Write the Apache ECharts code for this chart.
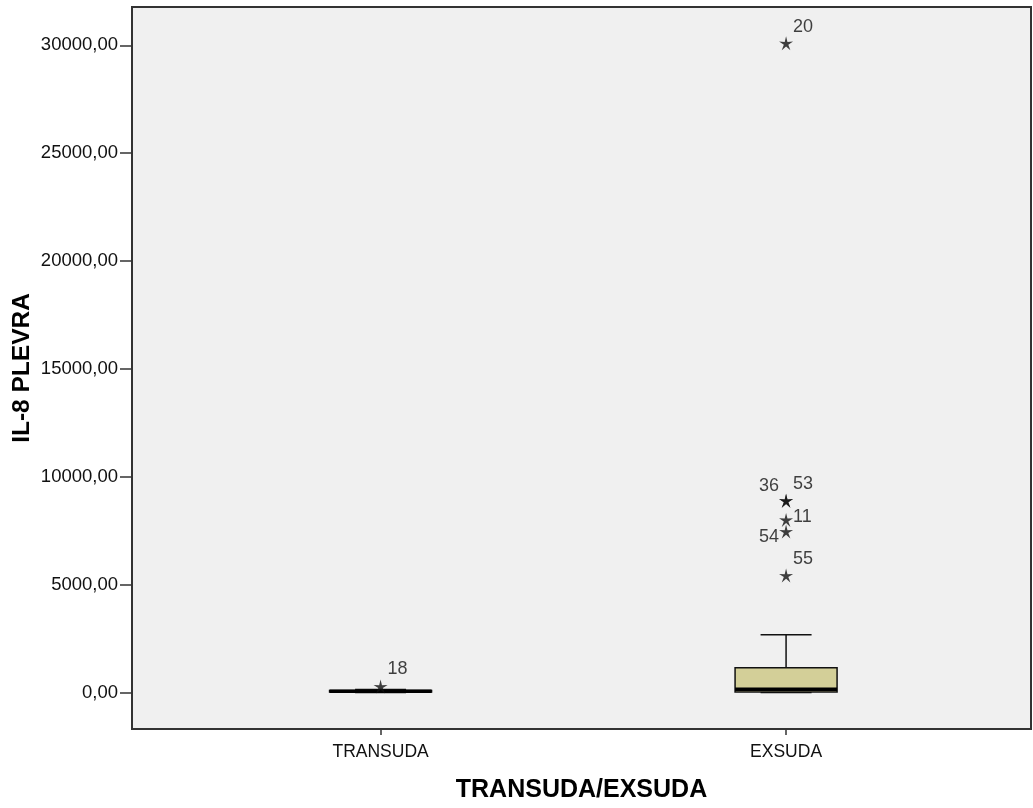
<!DOCTYPE html>
<html><head><meta charset="utf-8">
<script src="https://cdn.jsdelivr.net/npm/echarts@6/dist/echarts.min.js"></script>
<style>html,body{margin:0;padding:0;background:#fff}#c{width:1033px;height:808px}</style>
</head><body><div id="c"></div>
<script>
// ---- data ----
const categories = ['TRANSUDA', 'EXSUDA'];
// box statistics per category: [min, Q1, median, Q3, max]
const transudaBox = [0, 15, 50, 90, 140];
const exsudaBox = [0, 20, 150, 1150, 2670];
// extreme values (stars): category index, value, case id
const outlierCategory = [0, 1, 1, 1, 1, 1, 1];
const outlierValues = [270, 30100, 8890, 8890, 8000, 7460, 5420];
const outlierIds = ['18', '20', '36', '53', '11', '54', '55'];
const yTicks = [0, 5000, 10000, 15000, 20000, 25000, 30000];

// ---- styling helpers ----
const FONT = "'Liberation Sans', Arial, sans-serif";
const labelPlace = { '18': ['right', -18], '20': ['right', -16], '36': ['left', -15], '53': ['right', -17],
                     '11': ['right', -3], '54': ['left', 6], '55': ['right', -17] };
function starPath() {
  let d = '';
  for (let i = 0; i < 10; i++) {
    const r = i % 2 === 0 ? 50 : 16;
    const a = -Math.PI / 2 + i * Math.PI / 5;
    d += (i === 0 ? 'M' : 'L') + (50 + r * Math.cos(a)).toFixed(2) + ',' + (50 + r * Math.sin(a)).toFixed(2);
  }
  return 'path://' + d + 'Z';
}
const boxData = [[0].concat(transudaBox), [1].concat(exsudaBox)];
const starData = outlierValues.map((v, i) => {
  const pl = labelPlace[outlierIds[i]];
  return { value: [outlierCategory[i], v], name: outlierIds[i],
    label: { position: pl[0], offset: [0, pl[1]] } };
});

const chart = echarts.init(document.getElementById('c'), null, { renderer: 'canvas' });
chart.setOption({
  animation: false,
  backgroundColor: '#ffffff',
  textStyle: { fontFamily: FONT },
  grid: { left: 132, right: 2, top: 7, bottom: 79, show: true, backgroundColor: '#f0f0f0',
          borderColor: '#333', borderWidth: 2, containLabel: false, outerBoundsMode: 'none' },
  xAxis: {
    type: 'value', min: -0.613, max: 1.604,
    name: 'TRANSUDA/EXSUDA', nameLocation: 'middle', nameGap: 49, nameMoveOverlap: false,
    nameTextStyle: { fontFamily: FONT, fontSize: 25, fontWeight: 'bold', color: '#000' },
    axisLine: { show: true, onZero: false, lineStyle: { color: '#333', width: 2 } },
    axisTick: { show: true, length: 6, customValues: [0, 1], lineStyle: { color: '#333', width: 1.5 } },
    axisLabel: { customValues: [0, 1], margin: 14, fontSize: 17.5, color: '#111', fontFamily: FONT,
                 formatter: v => categories[Math.round(v)] },
    splitLine: { show: false }
  },
  yAxis: {
    type: 'value', min: -1695, max: 31778,
    name: 'IL-8 PLEVRA', nameLocation: 'middle', nameGap: 97, nameMoveOverlap: false,
    nameTextStyle: { fontFamily: FONT, fontSize: 24.5, fontWeight: 'bold', color: '#000' },
    axisLine: { show: true, onZero: false, lineStyle: { color: '#333', width: 2 } },
    axisTick: { show: true, length: 12, customValues: yTicks, lineStyle: { color: '#333', width: 1.5 } },
    axisLabel: { customValues: yTicks, margin: 14, fontSize: 18.5, color: '#111', fontFamily: FONT,
                 formatter: v => v.toFixed(2).replace('.', ',') },
    splitLine: { show: false }
  },
  series: [
    {
      type: 'custom',
      data: boxData,
      encode: { x: 0, y: [1, 2, 3, 4, 5] },
      renderItem: function (params, api) {
        const xv = api.value(0);
        const pt = k => api.coord([xv, api.value(k)]);
        const x = pt(1)[0];
        const yMin = pt(1)[1], yQ1 = pt(2)[1], yMed = pt(3)[1], yQ3 = pt(4)[1], yMax = pt(5)[1];
        const half = 51, cap = 25.5;
        const ln = { stroke: '#111', lineWidth: 1.5 };
        return { type: 'group', children: [
          { type: 'line', shape: { x1: x, y1: yQ3, x2: x, y2: yMax }, style: ln },
          { type: 'line', shape: { x1: x - cap, y1: yMax, x2: x + cap, y2: yMax }, style: ln },
          { type: 'line', shape: { x1: x, y1: yQ1, x2: x, y2: yMin }, style: ln },
          { type: 'line', shape: { x1: x - cap, y1: yMin, x2: x + cap, y2: yMin }, style: ln },
          { type: 'rect', shape: { x: x - half, y: yQ3, width: 2 * half, height: Math.max(yQ1 - yQ3, 0.5) },
            style: { fill: '#d3cf98', stroke: '#111', lineWidth: 1.5 } },
          { type: 'line', shape: { x1: x - half, y1: yMed, x2: x + half, y2: yMed },
            style: { stroke: '#000', lineWidth: 3.5 } }
        ] };
      },
      z: 2
    },
    {
      type: 'scatter',
      data: starData,
      symbol: starPath(),
      symbolSize: 14,
      itemStyle: { color: '#111' },
      label: { show: true, formatter: p => p.name, fontSize: 18, color: '#111', fontFamily: FONT, distance: 0 },
      z: 3
    }
  ]
});
</script>
</body></html>
